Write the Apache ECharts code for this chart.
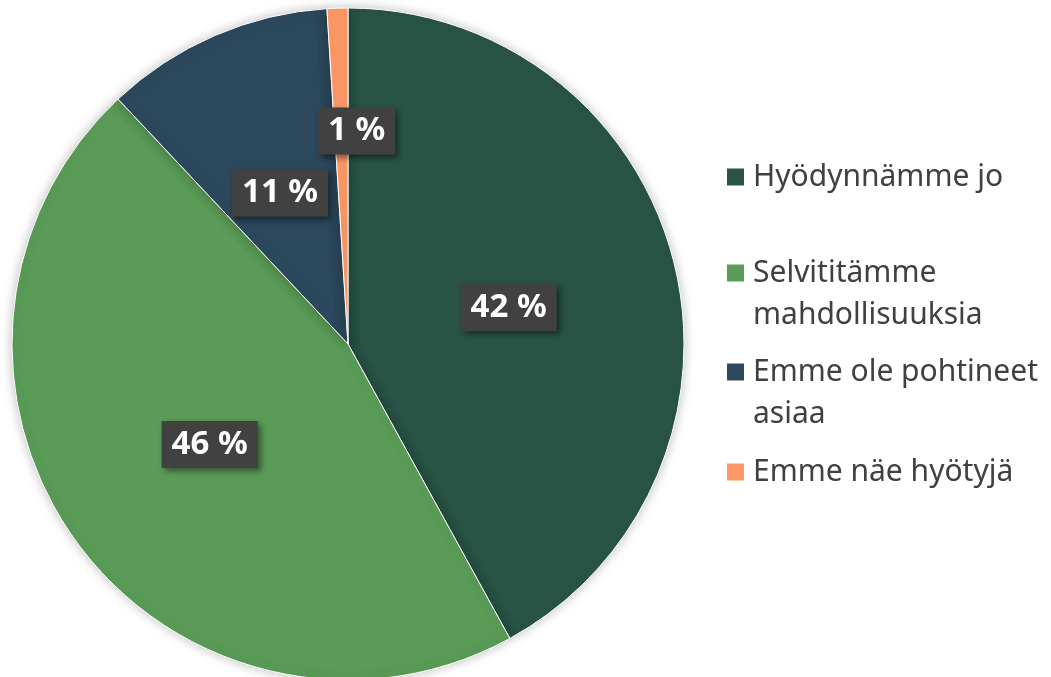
<!DOCTYPE html>
<html>
<head>
<meta charset="utf-8">
<script src="https://cdn.jsdelivr.net/npm/echarts@6/dist/echarts.min.js"></script>
<style>
  html, body { margin: 0; padding: 0; background: #fff; }
  #chart { width: 1051px; height: 677px; }
</style>
</head>
<body>
<div id="chart"></div>
<script>
var names = ['Hyödynnämme jo', 'Selvititämme\nmahdollisuuksia', 'Emme ole pohtineet\nasiaa', 'Emme näe hyötyjä']
var values = [42, 46, 11, 1]
var colors = ['#285345', '#5a9b57', '#2c485c', '#fe9966']

var chart = echarts.init(document.getElementById('chart'))

// one legend per item; wrapped names get a blank first line so the icon sits on line one
var legendTops = [156, 210, 309, 451]
var legends = names.map(function (n, i) {
  return {
    left: 725,
    top: legendTops[i],
    padding: 0,
    orient: 'vertical',
    itemWidth: 19,
    itemHeight: 19,
    itemGap: 0,
    selectedMode: false,
    data: [{ name: n, icon: 'rect' }],
    formatter: function (name) {
      return name.indexOf('\n') >= 0 ? ' \n' + name : name
    },
    textStyle: {
      fontFamily: 'Noto Sans',
      fontSize: 30,
      color: '#404040',
      lineHeight: 42,
      padding: [0, 0, 0, 3]
    }
  }
})

chart.setOption({
  color: colors,
  legend: legends,
  series: [{
    type: 'pie',
    center: [348, 344],
    radius: 336,
    startAngle: 90,
    clockwise: true,
    silent: true,
    itemStyle: {
      borderColor: '#fff',
      borderWidth: 1,
      shadowBlur: 12,
      shadowColor: 'rgba(0,0,0,0.25)'
    },
    label: {
      show: true,
      position: 'inside',
      formatter: function (p) { return p.value + ' %' },
      fontFamily: 'Noto Sans',
      fontWeight: 'bold',
      fontSize: 33,
      color: '#fff',
      backgroundColor: '#414141',
      padding: [8, 10, 6, 10],
      shadowBlur: 6,
      shadowColor: 'rgba(0,0,0,0.45)',
      shadowOffsetX: 3,
      shadowOffsetY: 3
    },
    labelLayout: function (p) {
      if (p.dataIndex === 3) return { dx: 14, dy: -42 }
      if (p.dataIndex === 0) return { dx: -5, dy: 6 }
      if (p.dataIndex === 2) return { dy: 6 }
      return {}
    },
    labelLine: { show: false },
    data: names.map(function (n, i) { return { name: n, value: values[i] } })
  }]
})
</script>
</body>
</html>
